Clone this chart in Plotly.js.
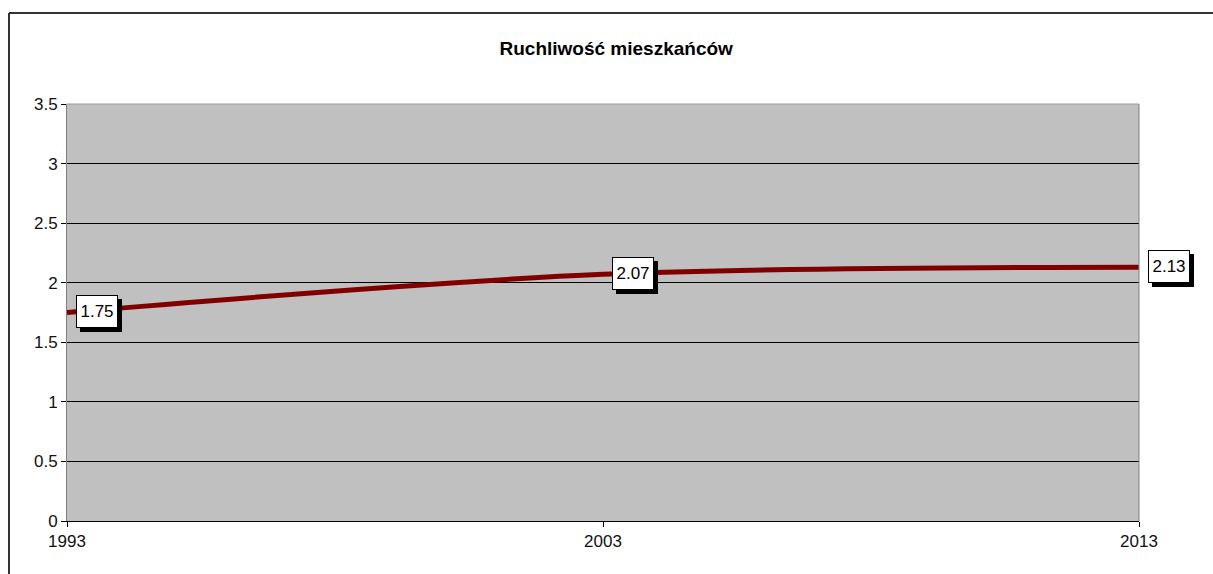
<!DOCTYPE html>
<html>
<head>
<meta charset="utf-8">
<script src="https://cdn.plot.ly/plotly-3.0.1.min.js"></script>
<style>html,body{margin:0;padding:0;background:#fff;}#chart{width:1213px;height:574px;}</style>
</head>
<body>
<div id="chart"></div>
<script>
const years = [1993, 2003, 2013];
const values = [1.75, 2.07, 2.13];
const labels = ["1.75", "2.07", "2.13"];
const yTicks = [0, 0.5, 1, 1.5, 2, 2.5, 3, 3.5];
const yTickText = ["0", "0.5", "1", "1.5", "2", "2.5", "3", "3.5"];
const title = "Ruchliwość mieszkańców";

const trace = {
  x: years, y: values, type: 'scatter', mode: 'lines',
  line: {color: '#800000', width: 5, shape: 'spline', smoothing: 0.9},
  hoverinfo: 'none', cliponaxis: false
};

const annotations = [];
years.forEach((yr, i) => {
  annotations.push({
    x: yr, y: values[i], xref: 'x', yref: 'y', text: ' ', showarrow: false,
    xanchor: 'left', yanchor: 'middle', xshift: 13, yshift: -3,
    font: {family: 'Liberation Sans, Arial, sans-serif', size: 17, color: '#000'},
    bgcolor: '#000', bordercolor: '#000', borderwidth: 1, borderpad: 1, width: 38, height: 29
  });
  annotations.push({
    x: yr, y: values[i], xref: 'x', yref: 'y', text: labels[i], showarrow: false,
    xanchor: 'left', yanchor: 'middle', xshift: 9, yshift: 1,
    font: {family: 'Liberation Sans, Arial, sans-serif', size: 17, color: '#000'},
    bgcolor: '#fff', bordercolor: '#000', borderwidth: 1, borderpad: 1, width: 38, height: 29
  });
});

const layout = {
  width: 1213, height: 574,
  margin: {l: 67, r: 74, t: 104, b: 53, pad: 0},
  paper_bgcolor: '#fff', plot_bgcolor: '#c0c0c0',
  showlegend: false,
  title: {text: '<b>' + title + '</b>', x: 0.508, xanchor: 'center', y: 0.915, yanchor: 'middle',
          font: {family: 'Liberation Sans, Arial, sans-serif', size: 19, color: '#000'}},
  font: {family: 'Liberation Sans, Arial, sans-serif', size: 17, color: '#111'},
  xaxis: {
    range: [1993, 2013], tickvals: years, ticktext: years.map(String),
    ticks: 'outside', ticklen: 5, tickcolor: '#000', tickwidth: 1,
    showgrid: false, zeroline: false, showline: true, linecolor: '#000', linewidth: 1,
    tickfont: {size: 17, color: '#111'}, fixedrange: true
  },
  yaxis: {
    range: [0, 3.5], tickvals: yTicks, ticktext: yTickText,
    ticks: 'outside', ticklen: 5, tickcolor: '#000', tickwidth: 1,
    showgrid: true, gridcolor: '#000', gridwidth: 1, zeroline: false,
    showline: true, linecolor: '#808080', linewidth: 1, mirror: false,
    tickfont: {size: 17, color: '#111'}, fixedrange: true
  },
  shapes: [
    {type: 'line', xref: 'paper', yref: 'paper', x0: 1, x1: 1, y0: 0, y1: 1, line: {color: '#808080', width: 1}},
    {type: 'line', xref: 'paper', yref: 'paper', x0: 0, x1: 1, y0: 1, y1: 1, line: {color: '#999', width: 1}},
    {type: 'line', xref: 'paper', yref: 'paper', x0: -0.0541, x1: 1.2, y0: 1.2182, y1: 1.2182, line: {color: '#333', width: 2}},
    {type: 'line', xref: 'paper', yref: 'paper', x0: -0.0541, x1: -0.0541, y0: 1.2182, y1: -0.13, line: {color: '#333', width: 2}}
  ],
  annotations: annotations
};

Plotly.newPlot('chart', [trace], layout, {displayModeBar: false, staticPlot: true});
</script>
</body>
</html>
